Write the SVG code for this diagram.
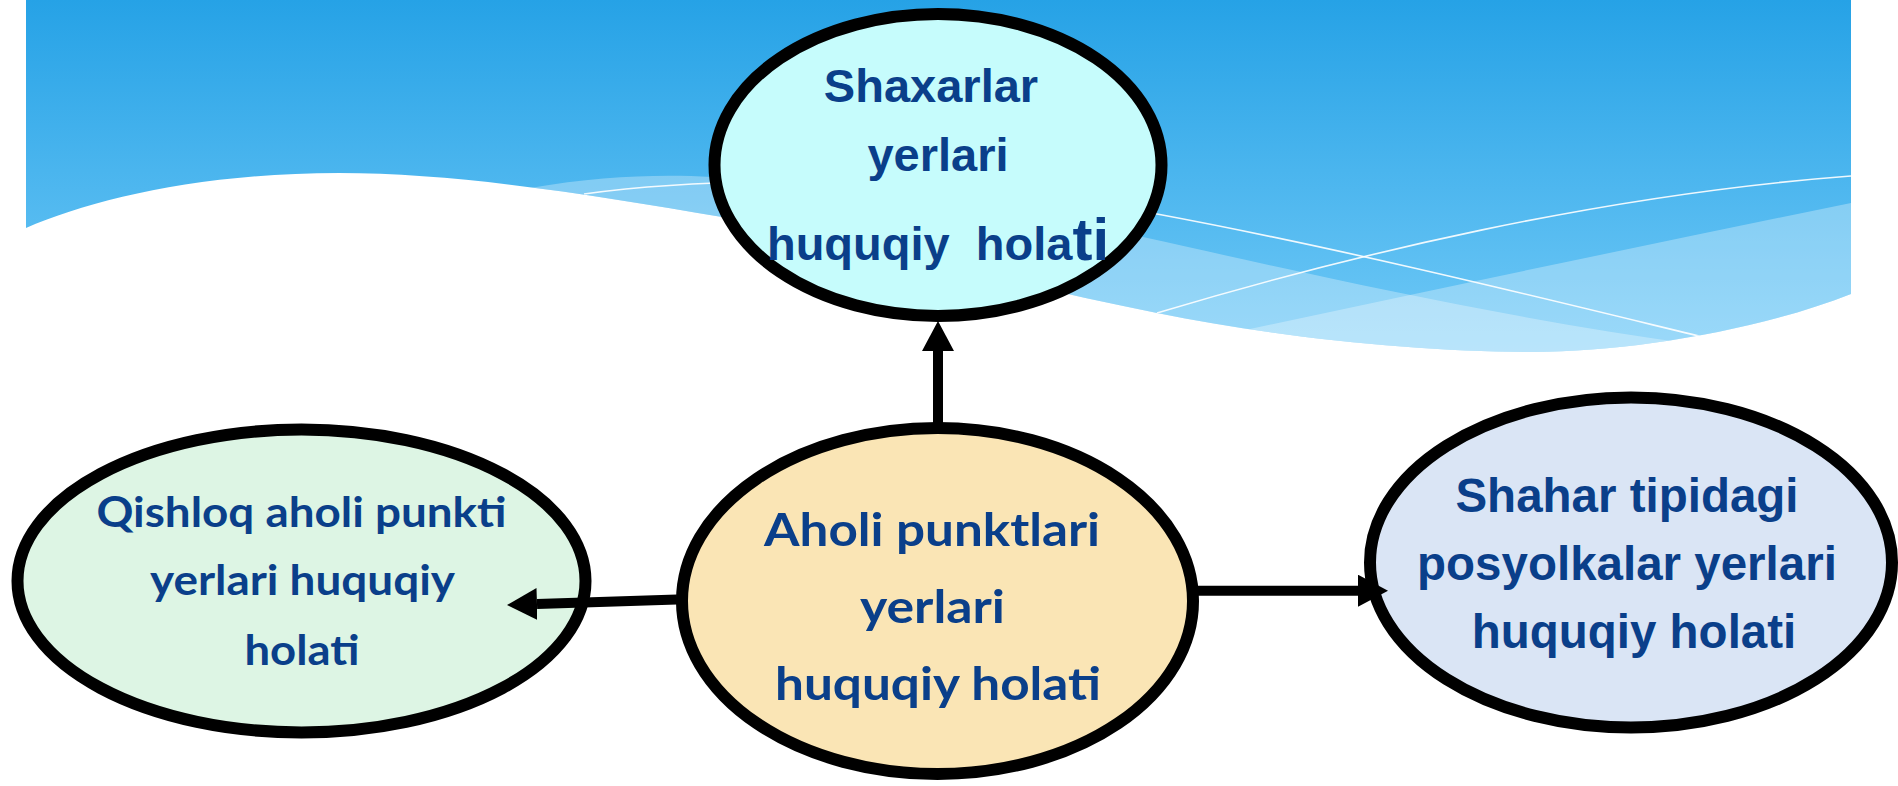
<svg xmlns="http://www.w3.org/2000/svg" width="1898" height="786" viewBox="0 0 1898 786">
<defs>
<linearGradient id="sky" gradientUnits="userSpaceOnUse" x1="0" y1="0" x2="0" y2="360">
<stop offset="0" stop-color="#26A2E6"/>
<stop offset="1" stop-color="#72CAF7"/>
</linearGradient>
<clipPath id="skyClip">
<path d="M26,0 H1851 V294 C1760,330 1630,352 1533,352 C1420,352 1280,338 1157,313 C1000,282 860,240 722,217 C600,196 460,173 339,173 C200,173 90,200 26,228 Z"/>
</clipPath>
<marker id="arrow" markerUnits="userSpaceOnUse" viewBox="0 0 30 32" markerWidth="30" markerHeight="32" refX="0" refY="16" orient="auto">
<path d="M0,0 L30,16 L0,32 Z" fill="#000"/>
</marker>
<style>
.node ellipse{stroke:#000;stroke-width:12}
.arial{font-family:"Liberation Sans",Arial,sans-serif;font-weight:bold;fill:#0A3F8A;text-anchor:middle}
.cal{font-family:Lato,"Open Sans",sans-serif;font-weight:bold;fill:#0A3F8A;text-anchor:middle}
.conn line{stroke:#000;stroke-width:10;marker-end:url(#arrow)}
.thin{fill:none;stroke:#fff;stroke-width:1.6;opacity:0.9}
</style>
</defs>
<g id="background">
<rect x="0" y="0" width="1898" height="786" fill="#fff"/>
<g clip-path="url(#skyClip)">
<rect x="26" y="0" width="1825" height="360" fill="url(#sky)"/>
<path d="M530,188 C600,176 660,174 712,177 C860,185 1000,205 1143,237 C1300,272 1500,318 1700,345 L1700,420 L530,420 Z" fill="#fff" opacity="0.3"/>
<path d="M1190,342 Q1500,275 1851,203 L1851,420 L1190,420 Z" fill="#fff" opacity="0.3"/>
<path class="thin" d="M584,194 C760,170 1000,185 1157,214 C1350,250 1550,300 1707,338"/>
<path class="thin" d="M1157,313 C1350,255 1600,195 1851,176"/>
</g>
</g>
<g id="node-shaxarlar" class="node">
<ellipse cx="938" cy="165" rx="223.5" ry="151" fill="#C6FCFC"/>
<text class="arial" font-size="47" style="white-space:pre"><tspan x="931" y="102">Shaxarlar</tspan><tspan x="938" y="171">yerlari</tspan><tspan x="938" y="260">huquqiy  hola<tspan font-size="60">ti</tspan></tspan></text>
</g>
<g id="node-qishloq" class="node">
<ellipse cx="301.5" cy="581" rx="284" ry="151.5" fill="#DDF5E4"/>
<text class="cal" font-size="42"><tspan x="301.5" y="527" textLength="410" lengthAdjust="spacingAndGlyphs">Qishloq aholi punkti</tspan><tspan x="302.5" y="595" textLength="305" lengthAdjust="spacingAndGlyphs">yerlari huquqiy</tspan><tspan x="302" y="665" textLength="115" lengthAdjust="spacingAndGlyphs">holati</tspan></text>
</g>
<g id="node-aholi" class="node">
<ellipse cx="937.5" cy="601" rx="255.5" ry="173" fill="#FAE5B5"/>
<text class="cal" font-size="45.5"><tspan x="932" y="546" textLength="336" lengthAdjust="spacingAndGlyphs">Aholi punktlari</tspan><tspan x="932.5" y="623" textLength="145" lengthAdjust="spacingAndGlyphs">yerlari</tspan><tspan x="938" y="700" textLength="326" lengthAdjust="spacingAndGlyphs">huquqiy holati</tspan></text>
</g>
<g id="node-shahar" class="node">
<ellipse cx="1631" cy="562.5" rx="261" ry="165" fill="#DAE5F5"/>
<text class="arial" font-size="47.5"><tspan x="1627" y="512">Shahar tipidagi</tspan><tspan x="1627" y="580">posyolkalar yerlari</tspan><tspan x="1634" y="648">huquqiy holati</tspan></text>
</g>
<g id="connectors" class="conn">
<line x1="938" y1="427" x2="938" y2="351"/>
<line x1="677" y1="599.5" x2="537" y2="604"/>
<line x1="1193" y1="590.7" x2="1358" y2="590.7"/>
</g>
</svg>
